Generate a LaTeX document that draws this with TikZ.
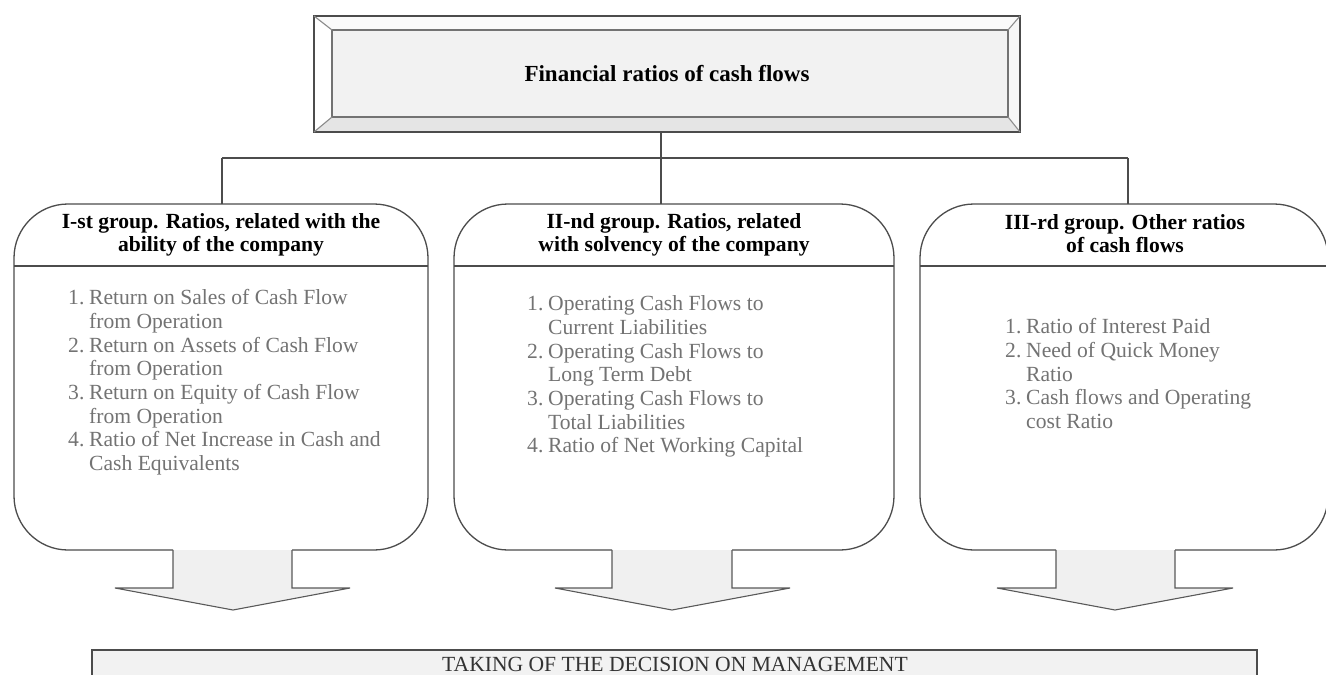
\documentclass[tikz,border=0pt]{standalone}
\usepackage{fontspec}
\setmainfont{Liberation Serif}
\begin{document}
\begin{tikzpicture}[x=1pt,y=-1pt,
  line/.style={draw=black!70, line width=1.3pt},
  thin/.style={draw=black!65, line width=1.1pt},
  hdr/.style={font=\fontsize{21.6}{23}\selectfont\bfseries, align=center, anchor=north, inner sep=0pt},
  body/.style={font=\fontsize{21.6}{23.7}\selectfont, text=black!55, align=left, anchor=north west, inner sep=0pt},
  arrowfill/.style={fill=black!6},
]
\useasboundingbox (0,0) rectangle (1326,675);
\newcommand\num[1]{\makebox[21pt][l]{#1}}
\newcommand\ind{\hspace*{21pt}}

% ---- top bevelled box
\fill[white] (314,16) rectangle (1020,132);
\fill[black!2] (314,16) -- (1020,16) -- (1008,30) -- (332,30) -- cycle;
\fill[white] (314,16) -- (332,30) -- (332,117) -- (314,132) -- cycle;
\fill[black!10] (314,132) -- (332,117) -- (1008,117) -- (1020,132) -- cycle;
\fill[black!3] (1020,16) -- (1008,30) -- (1008,117) -- (1020,132) -- cycle;
\fill[black!5] (332,30) rectangle (1008,117);
\draw[line] (314,16) rectangle (1020,132);
\draw[line, draw=black!55] (332,30) rectangle (1008,117);
\draw[thin, draw=black!45] (314,16) -- (332,30) (1020,16) -- (1008,30)
  (314,132) -- (332,117) (1020,132) -- (1008,117);
\node[font=\fontsize{23}{25}\selectfont\bfseries, inner sep=0pt] (title) at (667,74) {Financial ratios of cash flows};

% ---- connectors
\coordinate (topb) at (661,132);
\coordinate (hubm) at (661,158);
\coordinate (hubl) at (222,158);
\coordinate (hubr) at (1128,158);
\coordinate (g1top) at (222,204);
\coordinate (g2top) at (661,204);
\coordinate (g3top) at (1128,204);
\draw[line] (topb) -- (hubm);
\draw[line] (hubl) -- (hubr);
\draw[line] (hubl) -- (g1top);
\draw[line] (hubm) -- (g2top);
\draw[line] (hubr) -- (g3top);

% ---- group 1
\path[line, fill=white, rounded corners=54] (173,550) -- (14,550) -- (14,204) -- (428,204) -- (428,550) -- (292,550);
\path[thin, arrowfill] (173,550) -- (173,588) -- (115,588) -- (233,610) -- (350,588) -- (292,588) -- (292,550);
\draw[line] (14,266) -- (428,266);
\node[hdr] (h1) at (221,212) {\strut I-st group. Ratios, related with the\\ability of the company};
\node[body] (b1) at (68,288) {\strut\num{1.}Return on Sales of Cash Flow\\
\ind from Operation\\
\num{2.}Return on Assets of Cash Flow\\
\ind from Operation\\
\num{3.}Return on Equity of\ Cash Flow\\
\ind from Operation\\
\num{4.}Ratio of Net Increase in Cash and\\
\ind Cash Equivalents};

% ---- group 2
\path[line, fill=white, rounded corners=54] (612,550) -- (454,550) -- (454,204) -- (894,204) -- (894,550) -- (732,550);
\path[thin, arrowfill] (612,550) -- (612,588) -- (555,588) -- (672,610) -- (790,588) -- (732,588) -- (732,550);
\draw[line] (454,266) -- (894,266);
\node[hdr] (h2) at (674,212) {\strut II-nd group. Ratios, related\\with solvency of the company};
\node[body] (b2) at (527,294) {\strut\num{1.}Operating Cash Flows to\\
\ind Current Liabilities\\
\num{2.}Operating Cash Flows to\\
\ind Long Term Debt\\
\num{3.}Operating Cash Flows to\\
\ind Total Liabilities\\
\num{4.}Ratio of Net Working Capital};

% ---- group 3
\path[line, fill=white, rounded corners=54] (1056,550) -- (920,550) -- (920,204) -- (1328,204) -- (1328,550) -- (1175,550);
\path[thin, arrowfill] (1056,550) -- (1056,588) -- (997,588) -- (1115,610) -- (1233,588) -- (1175,588) -- (1175,550);
\draw[line] (920,266) -- (1328,266);
\node[hdr] (h3) at (1125,213) {\strut III-rd group. Other ratios\\of cash flows};
\node[body] (b3) at (1005,317) {\strut\num{1.}Ratio of Interest Paid\\
\num{2.}Need of Quick Money\\
\ind Ratio\\
\num{3.}Cash flows and Operating\\
\ind cost Ratio};

% ---- bottom box
\path[line, fill=black!5] (92,690) -- (92,650) -- (1257,650) -- (1257,690);
\node[font=\fontsize{21.6}{23}\selectfont, inner sep=0pt, text=black!80] (decision) at (675,664) {TAKING OF THE DECISION ON MANAGEMENT};
\end{tikzpicture}
\end{document}
